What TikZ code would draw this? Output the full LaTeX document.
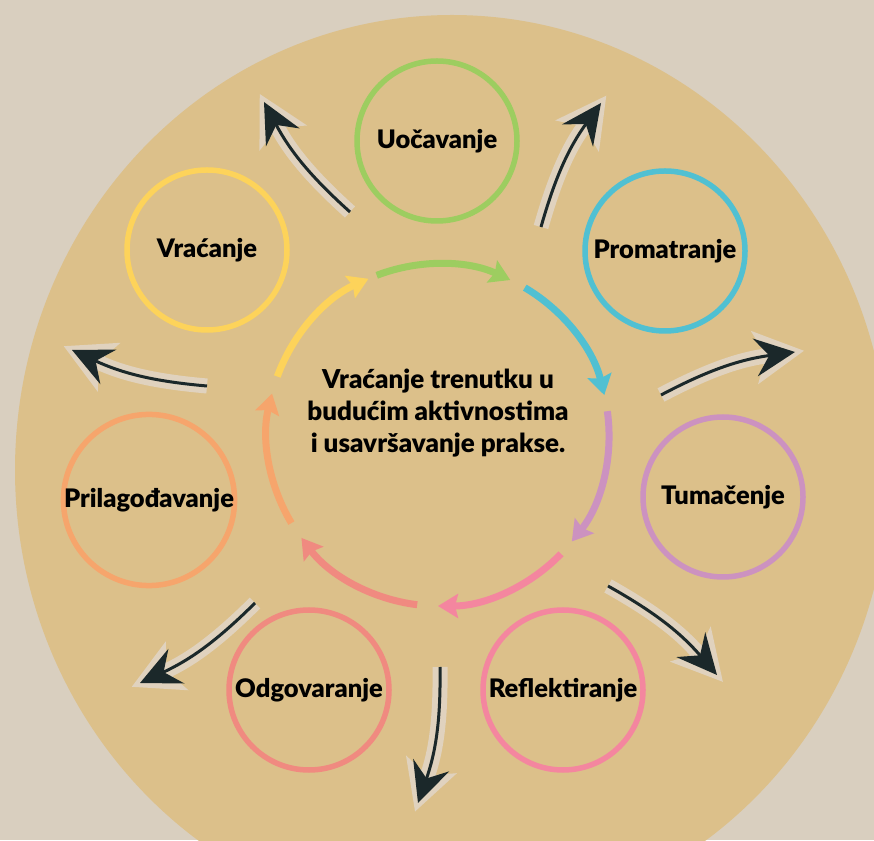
\documentclass[tikz,border=0pt]{standalone}
\usepackage{fontspec}
\setmainfont{Lato}
\newfontfamily\debeli{Lato Black}
\usetikzlibrary{arrows.meta}
\definecolor{pozadina}{RGB}{217,207,191}
\definecolor{pijesak}{RGB}{220,192,138}
\definecolor{svijetla}{RGB}{224,210,190}
\definecolor{tinta}{RGB}{27,40,42}
\definecolor{zelena}{RGB}{157,205,96}
\definecolor{tirkiz}{RGB}{80,192,210}
\definecolor{ljubicasta}{RGB}{204,146,192}
\definecolor{ruzicasta}{RGB}{244,134,159}
\definecolor{losos}{RGB}{240,138,128}
\definecolor{narancasta}{RGB}{246,165,108}
\definecolor{zuta}{RGB}{253,211,90}
\begin{document}
\begin{tikzpicture}[x=1pt,y=1pt,
	krug/.style={circle,draw=#1,line width=5.5pt,minimum size=160pt,inner sep=0pt,font=\debeli\fontsize{25.5}{28}\selectfont},
	luk/.style={draw=#1,line width=7pt,-{Stealth[length=20pt,width=24pt,inset=3pt]}},
	oreol/.style={draw=svijetla,line width=15pt,line join=round,shorten >=-9pt,-{Stealth[length=50pt,width=54pt,inset=12pt,line width=0pt]}},
	crta/.style={draw=tinta,line width=3pt,-{Stealth[length=40pt,width=38pt,inset=14pt]}}]
	\useasboundingbox (0,0) rectangle (874,840);
	\clip (0,0) rectangle (874,840);
	\fill[pozadina] (0,0) rectangle (874,840);
	\fill[pijesak] (452,370) ellipse[x radius=437,y radius=455];
	\node[krug=zelena] (u) at (437,699) {Uočavanje};
	\node[krug=tirkiz] (p) at (665,589) {Promatranje};
	\node[krug=ljubicasta] (t) at (723,343) {Tumačenje};
	\node[krug=ruzicasta] (r) at (563,150) {Reflektiranje};
	\node[krug=losos] (o) at (309,150) {Odgovaranje};
	\node[krug=narancasta] (pr) at (149,340) {Prilagođavanje};
	\node[krug=zuta] (v) at (207,590) {Vraćanje};
	\coordinate (sred) at (438,405);
	\node[align=center,font=\debeli\fontsize{26}{32}\selectfont] (tekst) at (438,427) {Vraćanje trenutku u\\budućim aktivnostima\\i usavršavanje prakse.};
	\draw[luk=zelena] ([shift={(111:171)}]sred) arc[start angle=111,end angle=65,radius=171];
	\draw[luk=tirkiz] ([shift={(59.5:171)}]sred) arc[start angle=59.5,end angle=13.5,radius=171];
	\draw[luk=ljubicasta] ([shift={(8:171)}]sred) arc[start angle=8,end angle=-38.5,radius=171];
	\draw[luk=ruzicasta] ([shift={(-44:171)}]sred) arc[start angle=-44,end angle=-90,radius=171];
	\draw[luk=losos] ([shift={(-97:171)}]sred) arc[start angle=-97,end angle=-143,radius=171];
	\draw[luk=narancasta] ([shift={(-149:171)}]sred) arc[start angle=-149,end angle=-194,radius=171];
	\draw[luk=zuta] ([shift={(160:171)}]sred) arc[start angle=160,end angle=114,radius=171];
	\coordinate (a1) at (350,628); \coordinate (b1) at (264,738);
	\coordinate (a2) at (541,613); \coordinate (b2) at (601,737);
	\coordinate (a3) at (661,445); \coordinate (b3) at (795,488);
	\coordinate (a4) at (608,254); \coordinate (b4) at (717,165);
	\coordinate (a5) at (440,173); \coordinate (b5) at (418,37);
	\coordinate (a6) at (255,237); \coordinate (b6) at (140,157);
	\coordinate (a7) at (207,454); \coordinate (b7) at (72,490);
	\foreach \i in {1,...,7}{
		\draw[oreol] (a\i) to[bend left=10] (b\i);
		\draw[crta] (a\i) to[bend left=10] (b\i);
	}
\end{tikzpicture}
\end{document}
